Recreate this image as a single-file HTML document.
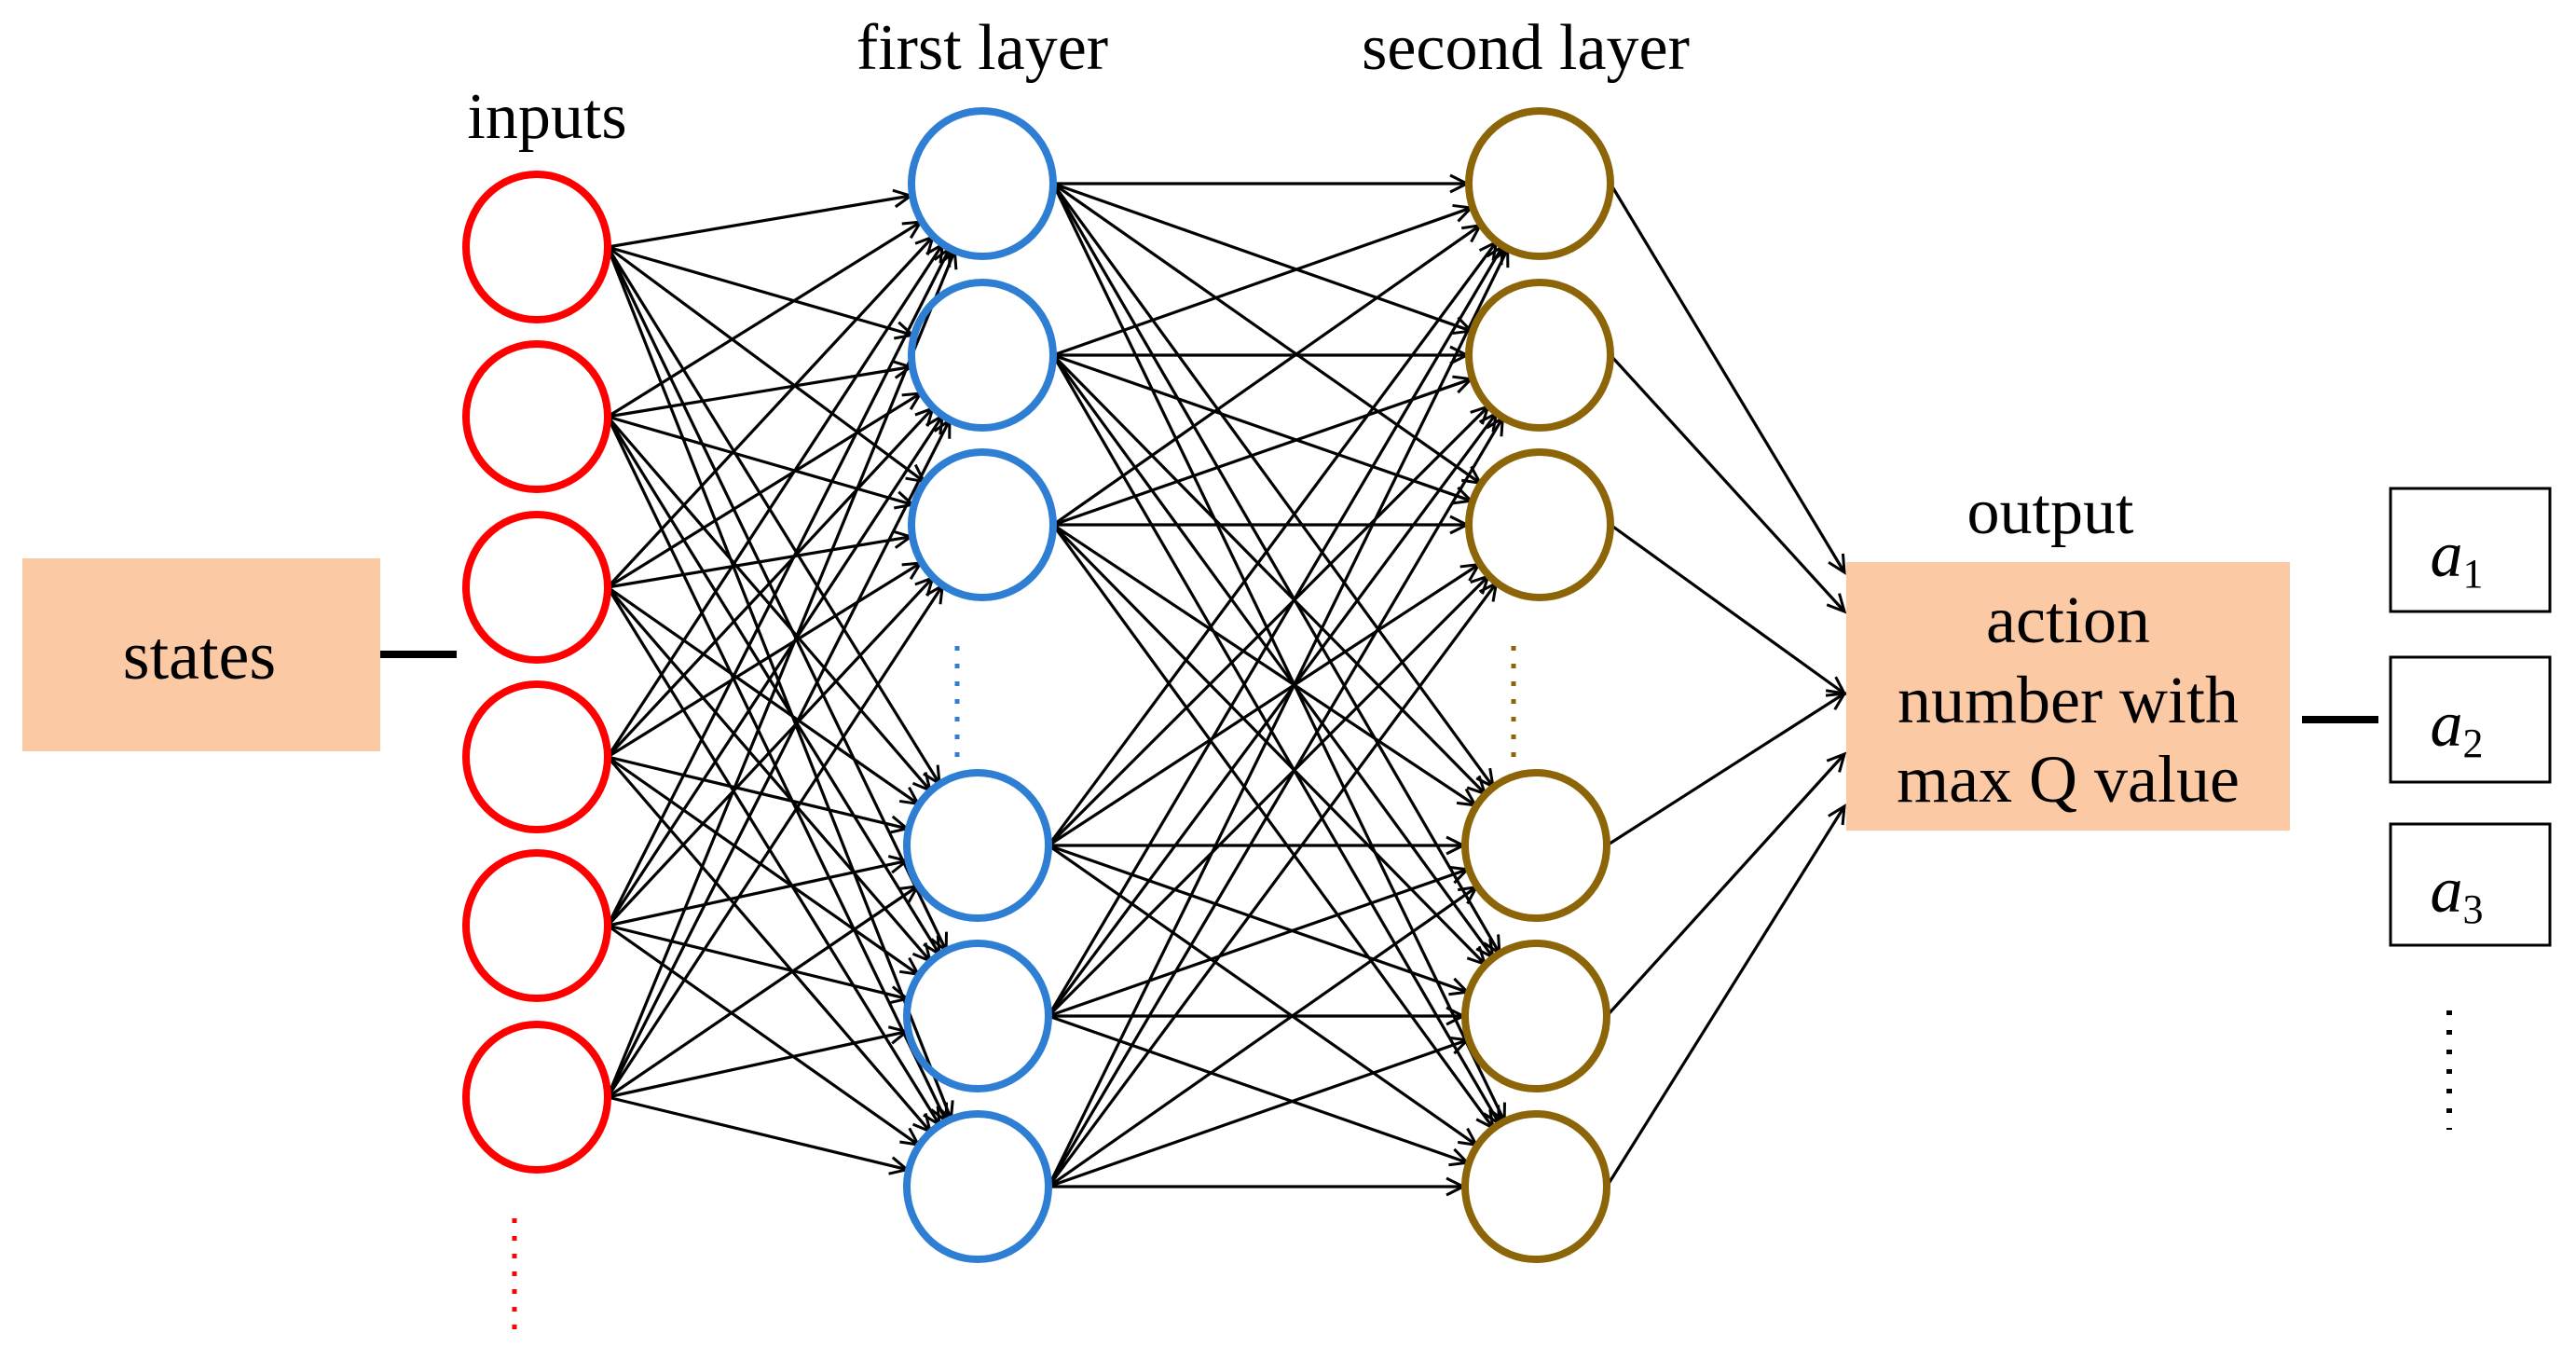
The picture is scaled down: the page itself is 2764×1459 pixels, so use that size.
<!DOCTYPE html>
<html><head><meta charset="utf-8"><style>
html,body{margin:0;padding:0;background:#fff;}
body{width:2764px;height:1459px;overflow:hidden;position:relative;}
svg{position:absolute;left:0;top:0;}
text{font-family:"Liberation Serif",serif;fill:#000;}
</style></head><body>
<svg id="s" width="2764" height="1459" viewBox="0 0 2764 1459" xmlns="http://www.w3.org/2000/svg">
<defs>
<marker id="ar" markerWidth="24" markerHeight="24" refX="20" refY="12" orient="auto" markerUnits="userSpaceOnUse">
<path d="M2,3 L20,12 L2,21" fill="none" stroke="#000" stroke-width="3"/>
</marker>
</defs>
<g id="edges" stroke="#000" stroke-width="3.2" fill="none"></g>
<rect x="24" y="599" width="384" height="207" fill="#fcc9a5"/>
<text x="214" y="728" font-size="74" text-anchor="middle">states</text>
<line x1="408" y1="702" x2="490" y2="702" stroke="#000" stroke-width="8"/>
<text x="587" y="148" font-size="70" text-anchor="middle">inputs</text>
<text x="1054" y="74" font-size="70" text-anchor="middle">first layer</text>
<text x="1637" y="74" font-size="70" text-anchor="middle">second layer</text>
<text x="2200" y="572" font-size="70" text-anchor="middle">output</text>
<rect x="1981" y="603" width="476" height="288" fill="#fcc9a5"/>
<text x="2219" y="689" font-size="72" text-anchor="middle">action</text>
<text x="2219" y="775" font-size="72" text-anchor="middle">number with</text>
<text x="2219" y="860" font-size="72" text-anchor="middle">max Q value</text>
<line x1="2470" y1="772" x2="2552" y2="772" stroke="#000" stroke-width="8"/>
<rect x="2565" y="524" width="171" height="132" fill="#fff" stroke="#000" stroke-width="3"/>
<rect x="2565" y="705" width="171" height="134" fill="#fff" stroke="#000" stroke-width="3"/>
<rect x="2565" y="884" width="171" height="130" fill="#fff" stroke="#000" stroke-width="3"/>
<text x="2636" y="618" font-size="70" font-style="italic" text-anchor="middle">a<tspan font-size="44" font-style="normal" dy="12">1</tspan></text>
<text x="2636" y="800" font-size="70" font-style="italic" text-anchor="middle">a<tspan font-size="44" font-style="normal" dy="12">2</tspan></text>
<text x="2636" y="978" font-size="70" font-style="italic" text-anchor="middle">a<tspan font-size="44" font-style="normal" dy="12">3</tspan></text>
<line x1="2628" y1="1084" x2="2628" y2="1212" stroke="#000" stroke-width="6" stroke-dasharray="5 16"/>
<line x1="552" y1="1307" x2="552" y2="1436" stroke="#ff0000" stroke-width="5" stroke-dasharray="5 14"/>
<line x1="1027" y1="693" x2="1027" y2="826" stroke="#2e7fd4" stroke-width="5" stroke-dasharray="5 14"/>
<line x1="1624" y1="693" x2="1624" y2="826" stroke="#8b6508" stroke-width="5" stroke-dasharray="5 14"/>
<g id="nodes"></g>
</svg>
<script>
var NS="http://www.w3.org/2000/svg";
var L0=[[576,265],[576,447],[576,630],[576,812],[576,993],[576,1177]];
var L1=[[1054,197],[1054,381],[1054,563],[1049,907],[1049,1090],[1049,1273]];
var L2=[[1652,197],[1652,381],[1652,563],[1648,907],[1648,1090],[1648,1273]];
var R=76;
var E=document.getElementById('edges'),N=document.getElementById('nodes');
function ln(x1,y1,x2,y2){var l=document.createElementNS(NS,'line');l.setAttribute('x1',x1);l.setAttribute('y1',y1);l.setAttribute('x2',x2);l.setAttribute('y2',y2);l.setAttribute('marker-end','url(#ar)');E.appendChild(l);}
function conn(A,B){A.forEach(function(a){B.forEach(function(b){var sx=a[0]+R,sy=a[1];var dx=b[0]-sx,dy=b[1]-sy,d=Math.sqrt(dx*dx+dy*dy);var t=(d-R-2)/d;ln(sx,sy,sx+dx*t,sy+dy*t);});});}
conn(L0,L1);conn(L1,L2);
var oy=[614,656,744,744,809,865];
L2.forEach(function(a,i){ln(a[0]+R,a[1],1979,oy[i]);});
function circ(L,c){L.forEach(function(p){var e=document.createElementNS(NS,'ellipse');e.setAttribute('cx',p[0]);e.setAttribute('cy',p[1]);e.setAttribute('rx',R);e.setAttribute('ry',R+2);e.setAttribute('fill','none');e.setAttribute('stroke',c);e.setAttribute('stroke-width','8');N.appendChild(e);});}
circ(L0,'#ff0000');circ(L1,'#2e7fd4');circ(L2,'#8b6508');
</script>
</body></html>
